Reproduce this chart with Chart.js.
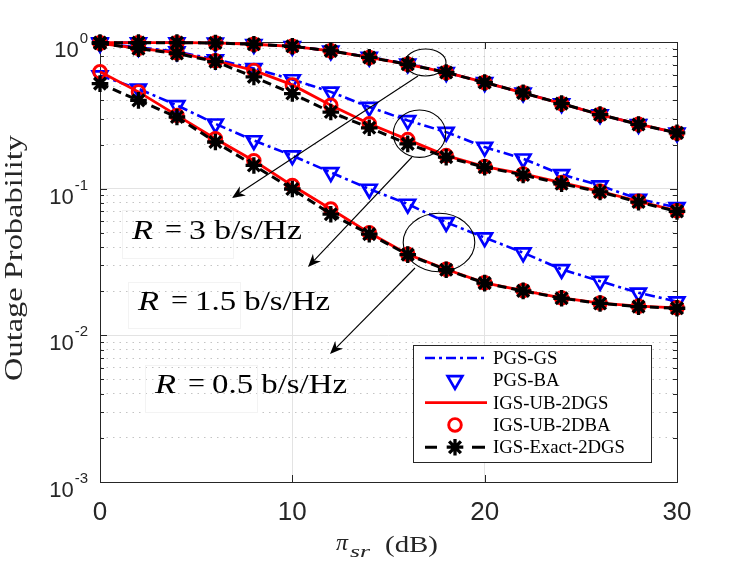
<!DOCTYPE html>
<html>
<head>
<meta charset="utf-8">
<script src="https://cdn.jsdelivr.net/npm/chart.js@4.4.0/dist/chart.umd.min.js"></script>
<style>
  html, body { margin: 0; padding: 0; background: #fff; }
  #wrap { width: 747px; height: 561px; }
</style>
</head>
<body>
<div id="wrap"><canvas id="chart" width="747" height="561"></canvas></div>
<script>
// pi_sr in dB
const snrDb = [0, 2, 4, 6, 8, 10, 12, 14, 16, 18, 20, 22, 24, 26, 28, 30];

// R = 3 b/s/Hz
const pgsR3   = [0.99, 0.99, 0.99, 0.985, 0.965, 0.935, 0.87, 0.79, 0.71, 0.62, 0.53, 0.45, 0.38, 0.32, 0.275, 0.24];
const ubR3    = [0.99, 0.99, 0.99, 0.985, 0.965, 0.935, 0.87, 0.785, 0.705, 0.62, 0.53, 0.45, 0.38, 0.32, 0.275, 0.24];
const exactR3 = [0.99, 0.99, 0.99, 0.985, 0.965, 0.935, 0.87, 0.785, 0.705, 0.62, 0.53, 0.45, 0.38, 0.32, 0.274, 0.24];

// R = 1.5 b/s/Hz
const pgsR15   = [0.98, 0.92, 0.86, 0.76, 0.66, 0.555, 0.457, 0.36, 0.292, 0.243, 0.192, 0.16, 0.125, 0.105, 0.085, 0.0745];
const ubR15    = [0.98, 0.905, 0.845, 0.745, 0.64, 0.51, 0.37, 0.277, 0.216, 0.168, 0.1415, 0.126, 0.11, 0.096, 0.082, 0.0707];
const exactR15 = [0.98, 0.9, 0.835, 0.735, 0.578, 0.445, 0.333, 0.26, 0.202, 0.164, 0.14, 0.124, 0.108, 0.095, 0.081, 0.07];

// R = 0.5 b/s/Hz
const pgsR05   = [0.59, 0.48, 0.37, 0.277, 0.213, 0.168, 0.129, 0.0995, 0.0786, 0.059, 0.0464, 0.0366, 0.0282, 0.0234, 0.0195, 0.017];
const ubR05    = [0.626, 0.457, 0.316, 0.219, 0.155, 0.105, 0.0726, 0.05, 0.0357, 0.0282, 0.0228, 0.0202, 0.018, 0.0166, 0.0158, 0.0154];
const exactR05 = [0.52, 0.4, 0.308, 0.208, 0.144, 0.0995, 0.067, 0.049, 0.0355, 0.028, 0.0227, 0.0201, 0.0179, 0.0165, 0.0157, 0.0153];

const xTicks = [0, 10, 20, 30];
const yTicks = [1, 0.1, 0.01, 0.001];
const yTickLabels = [['10', '0'], ['10', '-1'], ['10', '-2'], ['10', '-3']];
const legendLabels = ['PGS-GS', 'PGS-BA', 'IGS-UB-2DGS', 'IGS-UB-2DBA', 'IGS-Exact-2DGS'];
const rateLabels = ['3', '1.5', '0.5'];

const AXIS = '#262626';
const SERIF = 'Liberation Serif';
const SANS = 'Liberation Sans';

// styles (MATLAB look)
const pgsStyle = { color: '#0000ff', width: 2.6, dash: [10, 4, 3, 4], marker: 'triangle', rot: 180, radius: 8.5, mw: 2.7 };
const ubStyle = { color: '#ff0000', width: 2.8, dash: [], marker: 'circle', rot: 0, radius: 6.3, mw: 2.9 };
const exactStyle = { color: '#000000', width: 3, dash: [9, 5], marker: 'star', rot: 0, radius: 8.3, mw: 3.3 };

function makeSet(values, st, order) {
  return {
    data: values.map((v, i) => ({ x: snrDb[i], y: v })),
    borderColor: st.color,
    borderWidth: st.width,
    borderDash: st.dash,
    pointStyle: st.marker,
    pointRotation: st.rot,
    pointRadius: st.radius,
    pointBorderWidth: st.mw,
    pointBorderColor: st.color,
    pointBackgroundColor: 'rgba(0,0,0,0)',
    tension: 0,
    fill: false,
    clip: false,
    order: order
  };
}

const groups = [[pgsR3, ubR3, exactR3], [pgsR15, ubR15, exactR15], [pgsR05, ubR05, exactR05]];
const datasets = [];
groups.forEach(g => {
  datasets.push(makeSet(g[0], pgsStyle, 2));
  datasets.push(makeSet(g[1], ubStyle, 1));
  datasets.push(makeSet(g[2], exactStyle, 0));
});

// annotations (figure pixels, like MATLAB annotation objects)
const ellipses = [
  { cx: 425.5, cy: 62.5, rx: 20.5, ry: 13.5 },
  { cx: 419.5, cy: 133.7, rx: 26.2, ry: 23.7 },
  { cx: 439, cy: 242.5, rx: 35.8, ry: 29.2 }
];
const arrows = [
  { x1: 418, y1: 76, x2: 232, y2: 198 },
  { x1: 412, y1: 157, x2: 308, y2: 267 },
  { x1: 415, y1: 268, x2: 330, y2: 354 }
];
const textBoxes = [
  { x: 122, y: 210, w: 111, h: 48, tx: 132, base: 239, right: 302 },
  { x: 128, y: 282, w: 112, h: 46, tx: 138, base: 310, right: 330 },
  { x: 145, y: 365, w: 112, h: 47, tx: 155, base: 393, right: 347 }
];

function fitText(ctx, str, x, y, width) {
  const w = ctx.measureText(str).width;
  ctx.save();
  ctx.translate(x, y);
  ctx.scale(width / w, 1);
  ctx.textAlign = 'left';
  ctx.fillText(str, 0, 0);
  ctx.restore();
}

function marker(ctx, st, x, y) {
  ctx.save();
  ctx.strokeStyle = st.color;
  ctx.lineWidth = st.mw;
  ctx.setLineDash([]);
  ctx.beginPath();
  const r = st.radius;
  if (st.marker === 'circle') {
    ctx.arc(x, y, r, 0, Math.PI * 2);
  } else if (st.marker === 'triangle') {
    ctx.moveTo(x, y + r);
    ctx.lineTo(x - r * 0.866, y - r * 0.5);
    ctx.lineTo(x + r * 0.866, y - r * 0.5);
    ctx.closePath();
  } else {
    for (let k = 0; k < 4; k++) {
      const a = k * Math.PI / 4;
      ctx.moveTo(x - Math.cos(a) * r, y - Math.sin(a) * r);
      ctx.lineTo(x + Math.cos(a) * r, y + Math.sin(a) * r);
    }
  }
  ctx.stroke();
  ctx.restore();
}

function isMajor(v) {
  const l = Math.log10(v);
  return Math.abs(l - Math.round(l)) < 1e-9;
}

const matlabFrame = {
  id: 'matlabFrame',
  beforeDatasetsDraw(chart) {
    const ctx = chart.ctx;
    const a = chart.chartArea;
    const xs = chart.scales.x, ys = chart.scales.y;
    ctx.save();
    ctx.strokeStyle = AXIS;
    ctx.lineWidth = 1;
    ctx.setLineDash([]);
    ctx.beginPath();
    xs.ticks.forEach(t => {
      const px = Math.round(xs.getPixelForValue(t.value)) + 0.5;
      ctx.moveTo(px, a.bottom); ctx.lineTo(px, a.bottom - 7);
      ctx.moveTo(px, a.top); ctx.lineTo(px, a.top + 7);
    });
    ys.ticks.forEach(t => {
      const py = Math.round(ys.getPixelForValue(t.value)) + 0.5;
      const len = isMajor(t.value) ? 7 : 4;
      ctx.moveTo(a.left, py); ctx.lineTo(a.left + len, py);
      ctx.moveTo(a.right, py); ctx.lineTo(a.right - len, py);
    });
    ctx.stroke();
    ctx.strokeRect(Math.round(a.left) + 0.5, Math.round(a.top) + 0.5, Math.round(a.right - a.left), Math.round(a.bottom - a.top));
    ctx.restore();
  },
  afterDraw(chart) {
    const ctx = chart.ctx;
    const xs = chart.scales.x, ys = chart.scales.y;
    ctx.save();

    // tick labels
    ctx.fillStyle = AXIS;
    ctx.textBaseline = 'alphabetic';
    ctx.font = '26px "' + SANS + '"';
    ctx.textAlign = 'center';
    xTicks.forEach(v => ctx.fillText(String(v), xs.getPixelForValue(v), 520));
    yTicks.forEach((v, i) => {
      const py = ys.getPixelForValue(v);
      const [base, ex] = yTickLabels[i];
      ctx.font = '15px "' + SANS + '"';
      ctx.textAlign = 'right';
      ctx.fillText(ex, 88, py + 1);
      const ew = ctx.measureText(ex).width;
      ctx.font = '22px "' + SANS + '"';
      ctx.fillText(base, 88 - ew - 1, py + 15);
    });

    // axis titles
    ctx.fillStyle = AXIS;
    ctx.save();
    ctx.translate(15, 258);
    ctx.rotate(-Math.PI / 2);
    ctx.font = '26px "' + SERIF + '"';
    ctx.textBaseline = 'middle';
    fitText(ctx, 'Outage Probability', -123, 0, 246);
    ctx.restore();

    ctx.textBaseline = 'alphabetic';
    ctx.textAlign = 'left';
    ctx.font = 'italic 23px "' + SERIF + '"';
    fitText(ctx, '\u03c0', 336, 550, 12);
    ctx.font = 'italic 16px "' + SERIF + '"';
    fitText(ctx, 'sr', 350, 556.5, 20);
    ctx.font = '23px "' + SERIF + '"';
    fitText(ctx, '(dB)', 385, 552, 53);

    // annotations
    ctx.strokeStyle = '#000';
    ctx.fillStyle = '#000';
    ctx.lineWidth = 1.1;
    ellipses.forEach(e => {
      ctx.beginPath();
      ctx.ellipse(e.cx, e.cy, e.rx, e.ry, 0, 0, Math.PI * 2);
      ctx.stroke();
    });
    arrows.forEach(ar => {
      const ang = Math.atan2(ar.y2 - ar.y1, ar.x2 - ar.x1);
      const L = 13, W = 5.5, back = 9;
      const bx = ar.x2 - Math.cos(ang) * back, by = ar.y2 - Math.sin(ang) * back;
      ctx.beginPath();
      ctx.moveTo(ar.x1, ar.y1);
      ctx.lineTo(bx, by);
      ctx.stroke();
      const hx = ar.x2 - Math.cos(ang) * L, hy = ar.y2 - Math.sin(ang) * L;
      const nx = -Math.sin(ang), ny = Math.cos(ang);
      ctx.beginPath();
      ctx.moveTo(ar.x2, ar.y2);
      ctx.lineTo(hx + nx * W, hy + ny * W);
      ctx.lineTo(bx, by);
      ctx.lineTo(hx - nx * W, hy - ny * W);
      ctx.closePath();
      ctx.fill();
    });
    textBoxes.forEach((b, i) => {
      ctx.strokeStyle = '#f3f3f3';
      ctx.lineWidth = 1;
      ctx.strokeRect(b.x + 0.5, b.y + 0.5, b.w, b.h);
      ctx.fillStyle = '#000';
      ctx.font = 'italic 28px "' + SERIF + '"';
      fitText(ctx, 'R', b.tx, b.base, 21);
      ctx.font = '28px "' + SERIF + '"';
      fitText(ctx, '=', b.tx + 33, b.base - 1, 17);
      const rest = rateLabels[i] + ' b/s/Hz';
      const left = b.tx + 57;
      fitText(ctx, rest, left, b.base, b.right - left);
    });

    // legend
    const lx = 413, ly = 345, lw = 238, lh = 117;
    ctx.fillStyle = '#fff';
    ctx.fillRect(lx, ly, lw, lh);
    ctx.strokeStyle = AXIS;
    ctx.lineWidth = 1;
    ctx.strokeRect(lx + 0.5, ly + 0.5, lw, lh);
    ctx.font = '18px "' + SERIF + '"';
    const scaleX = 132 / ctx.measureText(legendLabels[4]).width;
    legendLabels.forEach((lab, i) => {
      const cy = 358 + i * 22.3;
      ctx.fillStyle = '#000';
      const w = ctx.measureText(lab).width * scaleX;
      fitText(ctx, lab, 493, cy + 6, w);
      ctx.save();
      if (i === 0 || i === 2) {
        const st = i === 0 ? pgsStyle : ubStyle;
        ctx.strokeStyle = st.color;
        ctx.lineWidth = st.width;
        ctx.setLineDash(st.dash);
        ctx.beginPath();
        ctx.moveTo(425, cy); ctx.lineTo(487, cy);
        ctx.stroke();
      } else if (i === 1) {
        marker(ctx, pgsStyle, 455, cy);
      } else if (i === 3) {
        marker(ctx, ubStyle, 455, cy);
      } else {
        ctx.strokeStyle = '#000';
        ctx.lineWidth = exactStyle.width;
        ctx.beginPath();
        ctx.moveTo(425, cy); ctx.lineTo(437, cy);
        ctx.moveTo(472, cy); ctx.lineTo(485, cy);
        ctx.stroke();
        marker(ctx, exactStyle, 455, cy);
      }
      ctx.restore();
    });
    ctx.restore();
  }
};

new Chart(document.getElementById('chart'), {
  type: 'line',
  data: { datasets: datasets },
  options: {
    responsive: false,
    animation: false,
    events: [],
    layout: { padding: { left: 100, right: 70, top: 42, bottom: 79 } },
    plugins: { legend: { display: false }, tooltip: { enabled: false } },
    scales: {
      x: {
        type: 'linear',
        min: 0,
        max: 30,
        ticks: { display: false, stepSize: 10 },
        grid: { color: '#e3e3e3', lineWidth: 1, drawTicks: false },
        border: { display: false }
      },
      y: {
        type: 'logarithmic',
        min: 0.001,
        max: 1,
        afterBuildTicks(scale) {
          const t = [];
          for (let e = -3; e < 0; e++) {
            for (let m = 1; m < 10; m++) t.push({ value: +(m * Math.pow(10, e)).toPrecision(6) });
          }
          t.push({ value: 1 });
          scale.ticks = t;
        },
        ticks: { display: false },
        grid: {
          drawTicks: false,
          lineWidth: 1,
          color: c => (c.tick && isMajor(c.tick.value)) ? '#e3e3e3' : '#c4c4c4'
        },
        border: {
          display: false,
          dash: c => (c.tick && isMajor(c.tick.value)) ? [] : [1.5, 5]
        }
      }
    }
  },
  plugins: [matlabFrame]
});
</script>
</body>
</html>
